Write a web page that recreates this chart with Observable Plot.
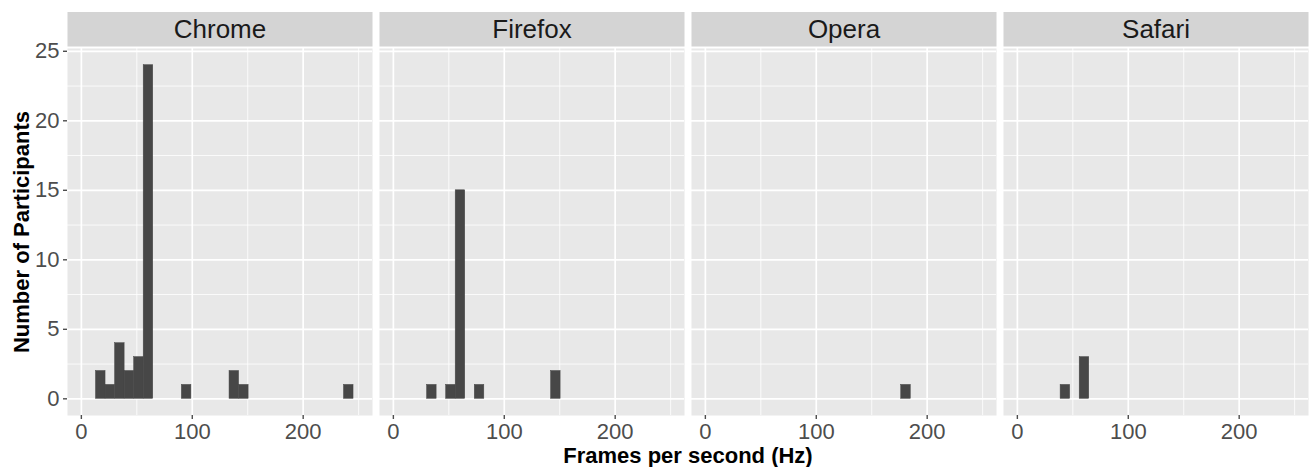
<!DOCTYPE html>
<html><head><meta charset="utf-8">
<script src="https://cdn.jsdelivr.net/npm/d3@7"></script>
<script src="https://cdn.jsdelivr.net/npm/@observablehq/plot@0.6"></script>
<style>
  html, body { margin: 0; padding: 0; background: #ffffff; }
  #chart svg { display: block; }
</style>
</head><body><div id="chart"></div>
<script>
// ---- data ----
const browsers = ["Chrome", "Firefox", "Opera", "Safari"];
const binWidth = 8.6; // histogram bin width in fps
const chromeCenters  = [17.5, 26.1, 34.7, 43.3, 51.9, 60.5, 94.9, 137.9, 146.5, 241.1];
const chromeCounts   = [2, 1, 4, 2, 3, 24, 1, 2, 1, 1];
const firefoxCenters = [34.7, 51.9, 60.5, 77.7, 146.5];
const firefoxCounts  = [1, 1, 15, 1, 2];
const operaCenters   = [180.9];
const operaCounts    = [1];
const safariCenters  = [43.3, 60.5];
const safariCounts   = [1, 3];
const xTicks = [0, 100, 200];
const xMinor = [50, 150, 250];
const yTicks = [0, 5, 10, 15, 20, 25];
const yMinor = [2.5, 7.5, 12.5, 17.5, 22.5];
const xTitle = "Frames per second (Hz)";
const yTitle = "Number of Participants";

// ---- build table ----
const series = {
  Chrome: [chromeCenters, chromeCounts],
  Firefox: [firefoxCenters, firefoxCounts],
  Opera: [operaCenters, operaCounts],
  Safari: [safariCenters, safariCounts]
};
const rows = [];
for (const b of browsers) {
  const [cs, ns] = series[b];
  cs.forEach((c, i) => rows.push({browser: b, x1: c - binWidth / 2, x2: c + binWidth / 2, count: ns[i]}));
}

const font = "'Liberation Sans', Arial, Helvetica, sans-serif";

const chart = Plot.plot({
  width: 1309,
  height: 467,
  marginLeft: 66,
  marginRight: 0,
  marginTop: 48,
  marginBottom: 52,
  style: {fontFamily: font, background: "#ffffff", overflow: "visible"},
  fx: {domain: browsers, paddingInner: 0.0227, paddingOuter: 0, axis: null, label: null},
  x: {domain: [-12.5, 262.5], axis: null, label: null},
  y: {domain: [-1.2, 25.2], axis: null, label: null},
  marks: [
    // strip background
    Plot.frame({fill: "#D4D4D4", insetTop: -36.5, insetBottom: 369}),
    // panel background
    Plot.frame({fill: "#E8E8E8"}),
    // grids
    Plot.gridX(xMinor, {stroke: "#ffffff", strokeOpacity: 1, strokeWidth: 0.8}),
    Plot.gridY(yMinor, {stroke: "#ffffff", strokeOpacity: 1, strokeWidth: 0.8}),
    Plot.gridX(xTicks, {stroke: "#ffffff", strokeOpacity: 1, strokeWidth: 1.7}),
    Plot.gridY(yTicks, {stroke: "#ffffff", strokeOpacity: 1, strokeWidth: 1.7}),
    // bars
    Plot.rectY(rows, {fx: "browser", x1: "x1", x2: "x2", y1: 0, y2: "count", fill: "#474747", stroke: "#474747", strokeWidth: 0.5}),
    // axes
    Plot.axisX(xTicks, {tickSize: 4, tickPadding: 4, fontSize: 22, color: "#4D4D4D", strokeWidth: 1.4, label: null}),
    Plot.axisY(yTicks, {tickSize: 4, tickPadding: 4, fontSize: 22, color: "#4D4D4D", strokeWidth: 1.4, label: null}),
    // strip labels
    Plot.text(browsers, {fx: d => d, text: d => d, frameAnchor: "top", dy: -18.5, lineAnchor: "middle", fontSize: 26, fill: "#1A1A1A"}),
    // axis titles
    Plot.text([xTitle], {facet: "super", text: d => d, frameAnchor: "bottom", dy: 40, lineAnchor: "middle", fontSize: 22, fontWeight: "bold", fill: "#000000"}),
    Plot.text([yTitle], {facet: "super", text: d => d, frameAnchor: "left", dx: -46, rotate: -90, lineAnchor: "middle", textAnchor: "middle", fontSize: 22, fontWeight: "bold", fill: "#000000"})
  ]
});
document.getElementById("chart").appendChild(chart);
</script>
</body></html>
